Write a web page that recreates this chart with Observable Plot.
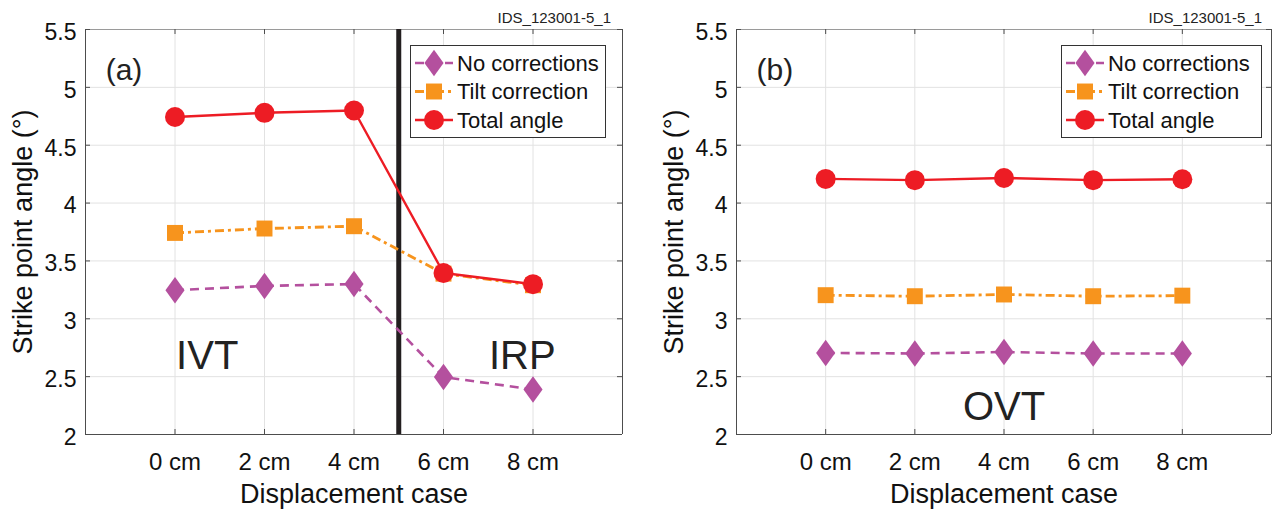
<!DOCTYPE html>
<html><head><meta charset="utf-8">
<script src="https://cdn.jsdelivr.net/npm/d3@7"></script>
<script src="https://cdn.jsdelivr.net/npm/@observablehq/plot@0.6"></script>
<style>
html,body{margin:0;padding:0;background:#fff;}
#root{position:relative;width:1272px;height:511px;overflow:hidden;font-family:"Liberation Sans",Arial,Helvetica,sans-serif;}
.panel{position:absolute;top:0;}
#overlay{position:absolute;left:0;top:0;pointer-events:none;}
</style></head><body><div id="root"></div>
<script>
// ---- data ----
const cases = ["0 cm","2 cm","4 cm","6 cm","8 cm"];
const yTicks = [2,2.5,3,3.5,4,4.5,5,5.5];
const xDomain = [-1,5];
const yDomain = [2,5.5];
const seriesNames = ["No corrections","Tilt correction","Total angle"];
const noCorrA = [3.247,3.284,3.30,2.497,2.389];
const tiltA   = [3.742,3.78,3.80,3.39,3.29];
const totalA  = [4.744,4.78,4.80,3.396,3.299];
const noCorrB = [2.705,2.70,2.713,2.70,2.70];
const tiltB   = [3.204,3.195,3.21,3.195,3.20];
const totalB  = [4.209,4.198,4.217,4.198,4.206];
const dividerA = [2.5];
const letterA = [{label:"(a)", x:-0.57, y:5.15}];
const letterB = [{label:"(b)", x:-0.57, y:5.15}];
const regionsA = [{label:"IVT", x:0.36, y:2.68},{label:"IRP", x:3.88, y:2.68}];
const regionsB = [{label:"OVT", x:2, y:2.24}];
const figId = "IDS_123001-5_1";

// ---- styles ----
const FONT = '"Liberation Sans",Arial,Helvetica,sans-serif';
const purple = "#B4509E", orange = "#F7941D", red = "#ED1C24";
const diamond = {draw(ctx, size){ const h = Math.sqrt(size/1.44), w = h*0.72;
  ctx.moveTo(0,-h); ctx.lineTo(w,0); ctx.lineTo(0,h); ctx.lineTo(-w,0); ctx.closePath(); }};
const styles = [
  {color: purple, dash: "9,6", sw: 2.6, symbol: diamond, r: 9},
  {color: orange, dash: "9,4,3,4", sw: 2.8, symbol: "square", r: 9},
  {color: red, dash: null, sw: 2.4, symbol: "circle", r: 10}
];
const H = 511, MT = 29, MB = 77;

function panel({width, ml, mr, series, divider, letter, regions}) {
  const fw = width - ml - mr, fh = H - MT - MB;
  const idx = cases.map((_, i) => i);
  const marks = [
    Plot.gridX(idx, {stroke: "#e2e2e2", strokeOpacity: 1}),
    Plot.gridY(yTicks, {stroke: "#e2e2e2", strokeOpacity: 1}),
    Plot.ruleY([yDomain[1]], {stroke: "#9a9a9a"}),
    Plot.ruleY([yDomain[0]], {stroke: "#4d4d4d"}),
    Plot.ruleX(xDomain, {stroke: "#4d4d4d"}),
    Plot.tickX(idx, {x: d => d, insetTop: fh - 5, stroke: "#4d4d4d"}),
    Plot.tickX(idx, {x: d => d, insetBottom: fh - 5, stroke: "#4d4d4d"}),
    Plot.tickY(yTicks, {y: d => d, insetRight: fw - 5, stroke: "#4d4d4d"}),
    Plot.tickY(yTicks, {y: d => d, insetLeft: fw - 5, stroke: "#4d4d4d"}),
    Plot.axisX(idx, {tickFormat: i => cases[i], tickSize: 0, tickPadding: 18, fontSize: 24, fill: "#111"}),
    Plot.axisY(yTicks, {tickFormat: d => String(d), tickSize: 0, tickPadding: 9, fontSize: 23, dy: 3, fill: "#111", label: null}),
    Plot.text(["Displacement case"], {frameAnchor: "bottom", dy: 68, fontSize: 27, fill: "#111"}),
    Plot.text(["Strike point angle (°)"], {frameAnchor: "left", textAnchor: "middle", dx: -62, rotate: -90, fontSize: 27, fill: "#111"}),
    Plot.text(letter, {x: "x", y: "y", text: "label", fontSize: 30, fill: "#222"}),
    Plot.text(regions, {x: "x", y: "y", text: "label", fontSize: 40, fill: "#222"})
  ];
  if (divider) marks.push(Plot.ruleX(divider, {stroke: "#231f20", strokeWidth: 5}));
  series.forEach((vals, k) => {
    const st = styles[k];
    const rows = vals.map((v, i) => ({i, v}));
    marks.push(Plot.line(rows, {x: "i", y: "v", stroke: st.color, strokeWidth: st.sw,
      strokeDasharray: st.dash, strokeLinecap: "butt"}));
  });
  series.forEach((vals, k) => {
    const st = styles[k];
    const rows = vals.map((v, i) => ({i, v}));
    marks.push(Plot.dot(rows, {x: "i", y: "v", symbol: st.symbol, r: st.r, fill: st.color, stroke: "none"}));
  });
  return Plot.plot({
    width, height: H, marginLeft: ml, marginRight: mr, marginTop: MT, marginBottom: MB,
    x: {domain: xDomain}, y: {domain: yDomain},
    style: {fontFamily: FONT, background: "transparent", overflow: "visible"},
    marks
  });
}

const root = document.getElementById("root");
const pa = panel({width: 640, ml: 85, mr: 18, series: [noCorrA, tiltA, totalA], divider: dividerA, letter: letterA, regions: regionsA});
pa.classList.add("panel"); pa.style.left = "0px";
root.appendChild(pa);
const pb = panel({width: 632, ml: 96, mr: 1, series: [noCorrB, tiltB, totalB], divider: null, letter: letterB, regions: regionsB});
pb.classList.add("panel"); pb.style.left = "640px";
root.appendChild(pb);

// ---- legends + id labels ----
const ov = d3.select(root).append("svg").attr("id", "overlay").attr("width", 1272).attr("height", H)
  .style("font-family", FONT);
function legend(x0, y0, w) {
  const g = ov.append("g").attr("transform", `translate(${x0},${y0})`);
  g.append("rect").attr("x", 0.5).attr("y", 0.5).attr("width", w).attr("height", 92)
    .attr("fill", "#fff").attr("stroke", "#333").attr("stroke-width", 1);
  seriesNames.forEach((name, k) => {
    const st = styles[k], cy = 18 + k * 28.5;
    g.append("line").attr("x1", 5).attr("x2", 43).attr("y1", cy).attr("y2", cy)
      .attr("stroke", st.color).attr("stroke-width", st.sw).attr("stroke-dasharray", st.dash);
    const sym = typeof st.symbol === "string"
      ? d3.symbol(st.symbol === "square" ? d3.symbolSquare : d3.symbolCircle, Math.PI * st.r * st.r)
      : d3.symbol(st.symbol, Math.PI * st.r * st.r);
    g.append("path").attr("d", sym()).attr("transform", `translate(24,${cy})`).attr("fill", st.color);
    g.append("text").attr("x", 47).attr("y", cy).attr("dy", "0.35em").attr("font-size", 22)
      .attr("fill", "#111").text(name);
  });
}
legend(410, 45, 195);
legend(1061, 45, 200);
[[611], [1262]].forEach(([x]) => {
  ov.append("text").attr("x", x).attr("y", 23).attr("text-anchor", "end").attr("font-size", 15)
    .attr("fill", "#222").text(figId);
});
</script></body></html>
